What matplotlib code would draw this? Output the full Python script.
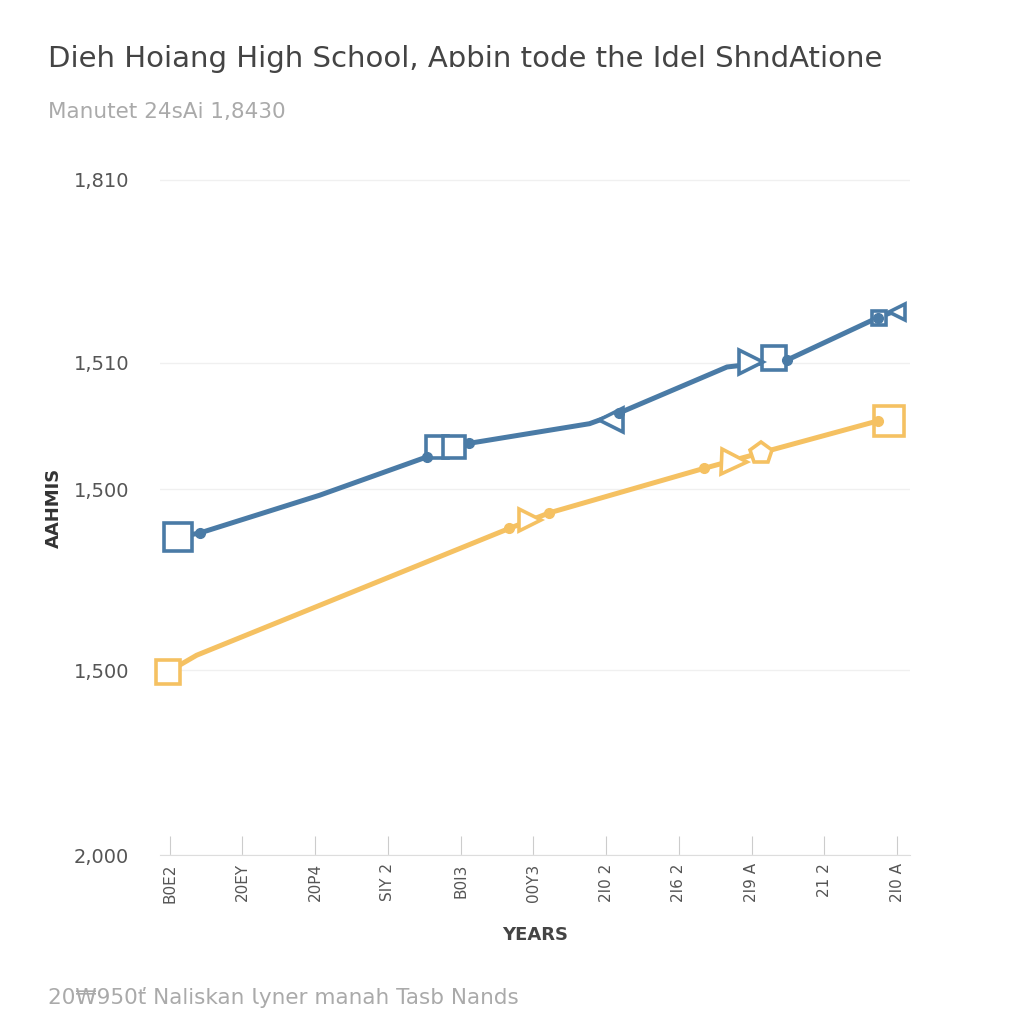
"""
Line chart: two enrolment series over years, open markers along the lines.
"""
import matplotlib.pyplot as plt

# x tick labels (as printed) and y tick labels
years = ['B0E2', '20EY', '20P4', 'SIY 2', 'B0I3', '00Y3', '2I0 2', '2I6 2', '2I9 A', '21 2', '2I0 A']
y_ticks = [0, 27.4, 54.2, 72.9, 100]
y_labels = ['2,000', '1,500', '1,500', '1,510', '1,810']

# blue series: line vertices and markers
blue_x = [0.11, 0.41, 2.06, 3.54, 4.12, 5.77, 6.18, 7.66, 8.48, 9.73, 10.07]
blue_y = [47.1, 47.7, 53.3, 59.0, 61.0, 63.9, 65.5, 72.3, 73.3, 79.6, 81.0]
blue_sq_x = [0.11, 3.67, 3.91, 8.31, 9.75]
blue_sq_y = [47.1, 60.4, 60.4, 73.6, 79.6]
blue_sq_s = [20, 16, 16, 17, 10]
blue_tri_x = [6.07, 7.99, 9.99]
blue_tri_y = [64.4, 73.0, 80.4]
blue_tri_m = ['<', '>', '<']
blue_tri_s = [17, 17, 12]
blue_dot_x = [0.41, 3.54, 4.12, 6.18, 8.48, 9.73]
blue_dot_y = [47.7, 59.0, 61.0, 65.5, 73.3, 79.6]

# yellow series
yellow_x = [-0.03, 0.37, 4.67, 5.22, 7.35, 8.13, 9.73]
yellow_y = [27.1, 29.6, 48.4, 50.7, 57.3, 59.6, 64.3]
yellow_sq_x = [-0.03, 9.89]
yellow_sq_y = [27.1, 64.3]
yellow_sq_s = [17, 22]
yellow_tri_x = [4.95, 7.76]
yellow_tri_y = [49.6, 58.2]
yellow_tri_s = [16, 18]
yellow_pent_x = [8.13]
yellow_pent_y = [59.6]
yellow_dot_x = [4.67, 5.22, 7.35, 9.73]
yellow_dot_y = [48.4, 50.7, 57.3, 64.3]

blue = '#4a7ba6'
yellow = '#f5c162'

fig = plt.figure(figsize=(10.24, 10.24), dpi=100)
ax = fig.add_axes([0.156, 0.165, 0.733, 0.679])

ax.plot(blue_x, blue_y, color=blue, lw=3.6, solid_capstyle='round', zorder=3)
ax.plot(yellow_x, yellow_y, color=yellow, lw=3.6, solid_capstyle='round', zorder=3)

for x, y, s in zip(blue_sq_x, blue_sq_y, blue_sq_s):
    ax.plot(x, y, marker='s', ms=s, mfc='white', mec=blue, mew=2.6, zorder=4, clip_on=False)
for x, y, m, s in zip(blue_tri_x, blue_tri_y, blue_tri_m, blue_tri_s):
    ax.plot(x, y, marker=m, ms=s, mfc='white', mec=blue, mew=2.6, zorder=4, clip_on=False)
ax.plot(blue_dot_x, blue_dot_y, 'o', ms=7, color=blue, zorder=5)

for x, y, s in zip(yellow_sq_x, yellow_sq_y, yellow_sq_s):
    ax.plot(x, y, marker='s', ms=s, mfc='white', mec=yellow, mew=2.6, zorder=4, clip_on=False)
for x, y, s in zip(yellow_tri_x, yellow_tri_y, yellow_tri_s):
    ax.plot(x, y, marker='>', ms=s, mfc='white', mec=yellow, mew=2.6, zorder=4, clip_on=False)
ax.plot(yellow_pent_x, yellow_pent_y, marker='p', ms=16, mfc='white', mec=yellow, mew=2.6, zorder=4)
ax.plot(yellow_dot_x, yellow_dot_y, 'o', ms=7, color=yellow, zorder=5)

ax.set_xlim(-0.1375, 10.18)
ax.set_ylim(0, 103)
ax.set_xticks(range(len(years)))
ax.set_xticklabels(years, rotation=90, fontsize=11, color='#555555')
ax.set_yticks(y_ticks)
ax.set_yticklabels(y_labels, fontsize=14, color='#555555')
ax.tick_params(axis='y', length=0, pad=22)
ax.tick_params(axis='x', direction='in', length=14, color='#cccccc', pad=6)

for s in ['top', 'right', 'left']:
    ax.spines[s].set_visible(False)
ax.spines['bottom'].set_color('#dddddd')
ax.yaxis.grid(True, color='#f0f0f0', lw=1)
ax.set_axisbelow(True)

ax.set_xlabel('YEARS', fontsize=13, fontweight='bold', color='#444444', labelpad=17)
ax.set_ylabel('AAHMIS', fontsize=13, fontweight='bold', color='#333333', labelpad=8)

fig.text(0.047, 0.942, 'Dieh Hoiang High School, Aɒbin tode the Idel ShndAtione',
         fontsize=21, color='#444444', va='center')
fig.text(0.047, 0.891, 'Manutet 24sAi 1,8430', fontsize=15.5, color='#aaaaaa', va='center')
fig.text(0.047, 0.026, '20₩950ť Naliskan Ɩyner manah Tasb Nands',
         fontsize=15.5, color='#aaaaaa', va='center')

fig.savefig('out.png', dpi=100, facecolor='white')
